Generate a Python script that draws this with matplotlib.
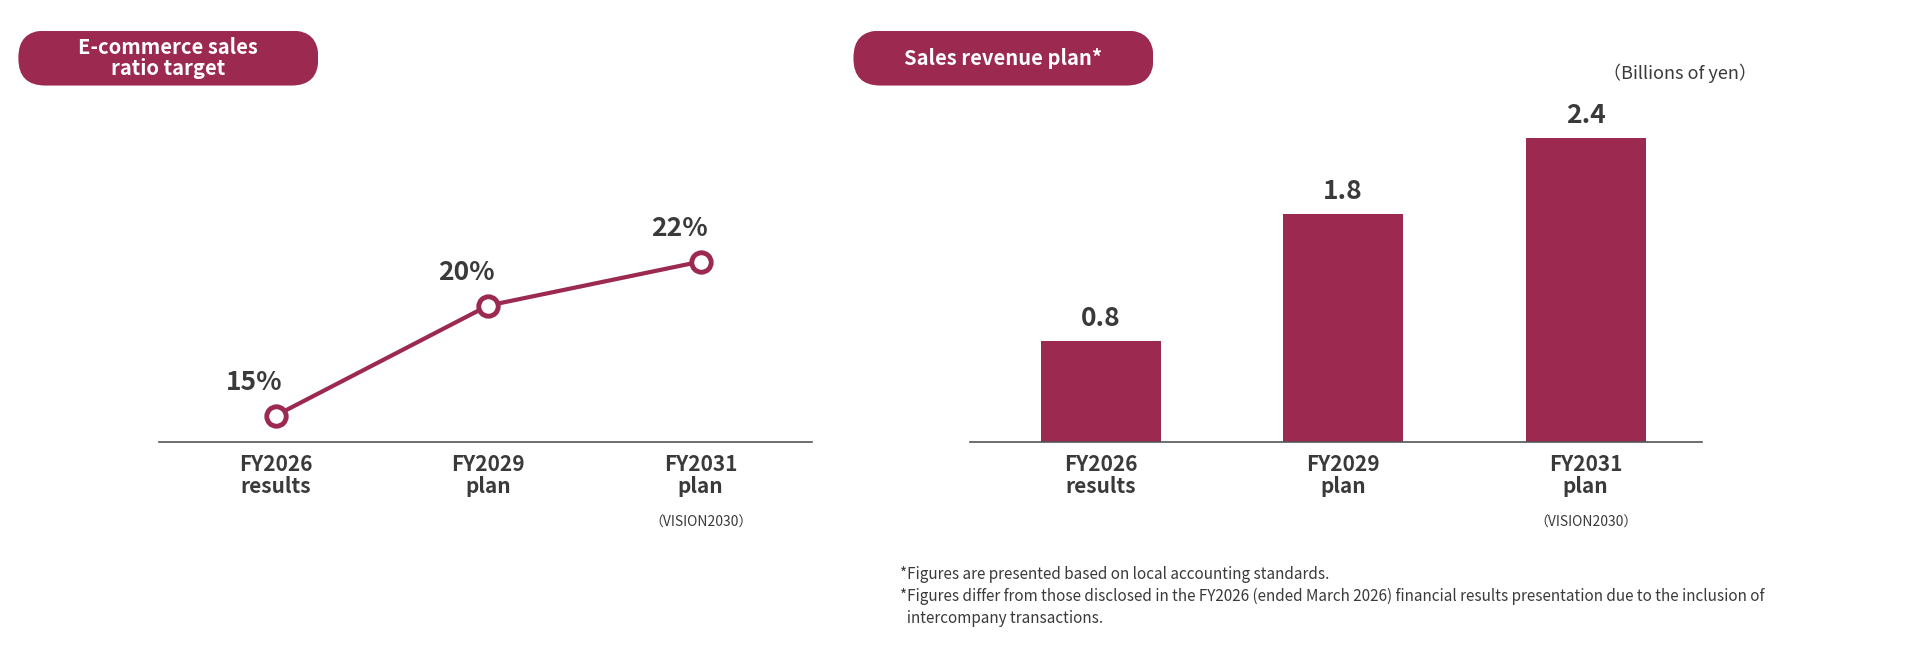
import matplotlib.pyplot as plt
from matplotlib.patches import FancyBboxPatch
from matplotlib.transforms import blended_transform_factory

plt.rcParams['font.family'] = ['Noto Sans CJK JP', 'DejaVu Sans']

categories = ['FY2026\nresults', 'FY2029\nplan', 'FY2031\nplan']
sub_note = '（VISION2030）'
ec_ratio = [15, 20, 22]
ec_labels = ['15%', '20%', '22%']
revenue = [0.8, 1.8, 2.4]
revenue_labels = ['0.8', '1.8', '2.4']

wine = '#9b2950'
dark = '#3a3a3a'
W, H = 1568.0, 540.0  # layout grid of the reference

fig = plt.figure(figsize=(19.2, 6.6), dpi=100)


def pill(x, y, w, h, text):
    ax = fig.add_axes([x / W, 1 - (y + h) / H, w / W, h / H])
    ax.set_xlim(0, w)
    ax.set_ylim(0, h)
    ax.axis('off')
    ax.add_patch(FancyBboxPatch((0, 0), w, h, boxstyle='round,pad=0,rounding_size=22',
                                fc=wine, ec='none'))
    ax.text(w / 2, h / 2, text, color='white', fontsize=14.5, fontweight='bold',
            ha='center', va='center', linespacing=1.0)


def style(ax):
    for s in ['top', 'left', 'right']:
        ax.spines[s].set_visible(False)
    ax.spines['bottom'].set_color('#555555')
    ax.spines['bottom'].set_linewidth(1.2)
    ax.set_yticks([])
    ax.set_xticks(range(3))
    ax.set_xticklabels(categories, fontsize=15, fontweight='bold', color=dark, linespacing=1.1)
    ax.tick_params(axis='x', length=0, pad=8)
    tr = blended_transform_factory(ax.transData, ax.transAxes)
    ax.text(2, -0.23, sub_note, transform=tr, ha='center', va='top', fontsize=10, color=dark)


bottom = 1 - 362 / H
height = (362 - 100) / H

# left: line chart
ax1 = fig.add_axes([130 / W, bottom, (663 - 130) / W, height])
ax1.plot(range(3), ec_ratio, color=wine, lw=3, marker='o', ms=14, mfc='white',
         mec=wine, mew=3.5, zorder=3, clip_on=False)
ax1.set_xlim(-0.548, 2.524)
ax1.set_ylim(13.78, 13.78 + 262 / 18)
for i, (v, t) in enumerate(zip(ec_ratio, ec_labels)):
    ax1.text(i - 0.1, v + 0.9, t, ha='center', va='bottom', fontsize=19, fontweight='bold', color=dark)
style(ax1)

# right: bar chart
ax2 = fig.add_axes([792 / W, bottom, (1390 - 792) / W, height])
ax2.bar(range(3), revenue, width=0.495, color=wine)
ax2.set_xlim(-0.54, 2.48)
ax2.set_ylim(0, 2.4 * 262 / 249)
for i, (v, t) in enumerate(zip(revenue, revenue_labels)):
    ax2.text(i, v + 0.07, t, ha='center', va='bottom', fontsize=19, fontweight='bold', color=dark)
style(ax2)

pill(15, 25, 245, 45, 'E-commerce sales\nratio target')
pill(697, 25, 245, 45, 'Sales revenue plan*')
fig.text(1435 / W, 1 - 60 / H, '（Billions of yen）', ha='right', va='center', fontsize=13, color=dark)

notes = ['*Figures are presented based on local accounting standards.',
         '*Figures differ from those disclosed in the FY2026 (ended March 2026) financial results presentation due to the inclusion of',
         '  intercompany transactions.']
for k, n in enumerate(notes):
    fig.text(735 / W, 1 - (470 + 18 * k) / H, n, ha='left', va='center', fontsize=11, color=dark)

fig.savefig('out.png', dpi=100)
